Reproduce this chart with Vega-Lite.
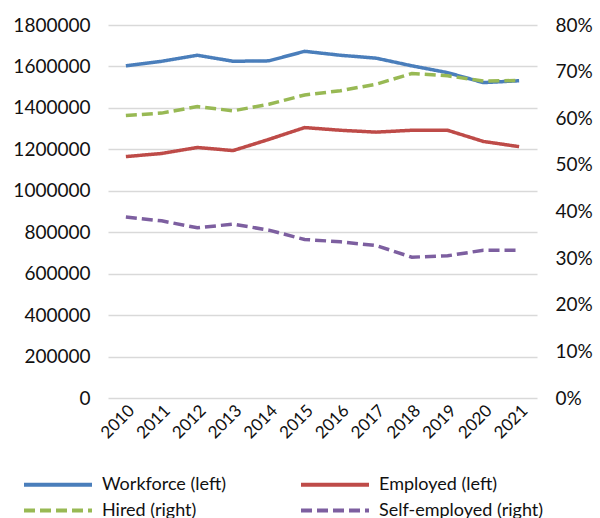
{
  "$schema": "https://vega.github.io/schema/vega-lite/v6.json",
  "width": 429,
  "height": 373,
  "autosize": {"type": "none"},
  "padding": {"left": 108, "top": 25, "right": 63, "bottom": 120},
  "background": "white",
  "config": {
    "font": "Lato",
    "view": {"stroke": null},
    "axis": {"labelFont": "Lato", "labelFontSize": 19, "labelColor": "#111111", "domain": false, "ticks": false, "title": null}
  },
  "datasets": {
    "counts": [
      {"year": "2010", "series": "Workforce (left)", "value": 1603000},
      {"year": "2011", "series": "Workforce (left)", "value": 1625000},
      {"year": "2012", "series": "Workforce (left)", "value": 1654000},
      {"year": "2013", "series": "Workforce (left)", "value": 1625000},
      {"year": "2014", "series": "Workforce (left)", "value": 1627000},
      {"year": "2015", "series": "Workforce (left)", "value": 1673000},
      {"year": "2016", "series": "Workforce (left)", "value": 1654000},
      {"year": "2017", "series": "Workforce (left)", "value": 1640000},
      {"year": "2018", "series": "Workforce (left)", "value": 1603000},
      {"year": "2019", "series": "Workforce (left)", "value": 1570000},
      {"year": "2020", "series": "Workforce (left)", "value": 1522000},
      {"year": "2021", "series": "Workforce (left)", "value": 1531000},
      {"year": "2010", "series": "Employed (left)", "value": 1165000},
      {"year": "2011", "series": "Employed (left)", "value": 1180000},
      {"year": "2012", "series": "Employed (left)", "value": 1209000},
      {"year": "2013", "series": "Employed (left)", "value": 1194000},
      {"year": "2014", "series": "Employed (left)", "value": 1248000},
      {"year": "2015", "series": "Employed (left)", "value": 1305000},
      {"year": "2016", "series": "Employed (left)", "value": 1292000},
      {"year": "2017", "series": "Employed (left)", "value": 1283000},
      {"year": "2018", "series": "Employed (left)", "value": 1292000},
      {"year": "2019", "series": "Employed (left)", "value": 1292000},
      {"year": "2020", "series": "Employed (left)", "value": 1238000},
      {"year": "2021", "series": "Employed (left)", "value": 1213000}
    ],
    "shares": [
      {"year": "2010", "series": "Hired (right)", "value": 0.606},
      {"year": "2011", "series": "Hired (right)", "value": 0.611},
      {"year": "2012", "series": "Hired (right)", "value": 0.625},
      {"year": "2013", "series": "Hired (right)", "value": 0.616},
      {"year": "2014", "series": "Hired (right)", "value": 0.630},
      {"year": "2015", "series": "Hired (right)", "value": 0.650},
      {"year": "2016", "series": "Hired (right)", "value": 0.659},
      {"year": "2017", "series": "Hired (right)", "value": 0.673},
      {"year": "2018", "series": "Hired (right)", "value": 0.696},
      {"year": "2019", "series": "Hired (right)", "value": 0.691},
      {"year": "2020", "series": "Hired (right)", "value": 0.680},
      {"year": "2021", "series": "Hired (right)", "value": 0.681},
      {"year": "2010", "series": "Self-employed (right)", "value": 0.388},
      {"year": "2011", "series": "Self-employed (right)", "value": 0.380},
      {"year": "2012", "series": "Self-employed (right)", "value": 0.365},
      {"year": "2013", "series": "Self-employed (right)", "value": 0.373},
      {"year": "2014", "series": "Self-employed (right)", "value": 0.360},
      {"year": "2015", "series": "Self-employed (right)", "value": 0.340},
      {"year": "2016", "series": "Self-employed (right)", "value": 0.335},
      {"year": "2017", "series": "Self-employed (right)", "value": 0.327},
      {"year": "2018", "series": "Self-employed (right)", "value": 0.302},
      {"year": "2019", "series": "Self-employed (right)", "value": 0.305},
      {"year": "2020", "series": "Self-employed (right)", "value": 0.317},
      {"year": "2021", "series": "Self-employed (right)", "value": 0.317}
    ]
  },
  "encoding": {
    "x": {
      "field": "year",
      "type": "ordinal",
      "scale": {"type": "point", "padding": 0.5},
      "axis": {"labelAngle": -45, "labelPadding": 4, "grid": false, "labelFontSize": 17}
    },
    "color": {
      "field": "series",
      "type": "nominal",
      "scale": {
        "domain": ["Workforce (left)", "Employed (left)", "Hired (right)", "Self-employed (right)"],
        "range": ["#4A7EBB", "#BE4B48", "#98B954", "#7D5FA0"]
      },
      "legend": {
        "title": null,
        "orient": "none",
        "direction": "horizontal",
        "legendX": -86,
        "legendY": 449,
        "columns": 2,
        "columnPadding": 66,
        "rowPadding": 6,
        "symbolType": "M-1,0H7",
        "symbolSize": 289,
        "symbolStrokeWidth": 4,
        "labelFont": "Lato",
        "labelFontSize": 18,
        "labelColor": "#111111",
        "labelOffset": 59,
        "labelLimit": 300
      }
    },
    "strokeDash": {
      "field": "series",
      "type": "nominal",
      "scale": {
        "domain": ["Workforce (left)", "Employed (left)", "Hired (right)", "Self-employed (right)"],
        "range": [[1, 0], [1, 0], [11, 5], [11, 5]]
      },
      "legend": {
        "title": null,
        "orient": "none",
        "direction": "horizontal",
        "legendX": -86,
        "legendY": 449,
        "columns": 2,
        "columnPadding": 66,
        "rowPadding": 6,
        "symbolType": "M-1,0H7",
        "symbolSize": 289,
        "symbolStrokeWidth": 4,
        "labelFont": "Lato",
        "labelFontSize": 18,
        "labelColor": "#111111",
        "labelOffset": 59,
        "labelLimit": 300
      }
    }
  },
  "layer": [
    {
      "data": {"name": "counts"},
      "mark": {"type": "line", "strokeWidth": 3.5, "strokeCap": "butt"},
      "encoding": {
        "y": {
          "field": "value",
          "type": "quantitative",
          "scale": {"domain": [0, 1800000]},
          "axis": {
            "orient": "left",
            "values": [0, 200000, 400000, 600000, 800000, 1000000, 1200000, 1400000, 1600000, 1800000],
            "format": "d",
            "labelPadding": 18,
            "grid": true,
            "gridColor": "#D9D9D9",
            "gridWidth": 1.5
          }
        }
      }
    },
    {
      "data": {"name": "shares"},
      "mark": {"type": "line", "strokeWidth": 3.5, "strokeCap": "butt"},
      "encoding": {
        "y": {
          "field": "value",
          "type": "quantitative",
          "scale": {"domain": [0, 0.8]},
          "axis": {
            "orient": "right",
            "values": [0, 0.1, 0.2, 0.3, 0.4, 0.5, 0.6, 0.7, 0.8],
            "format": ".0%",
            "labelPadding": 18,
            "grid": false
          }
        }
      }
    }
  ],
  "resolve": {"scale": {"y": "independent"}}
}
